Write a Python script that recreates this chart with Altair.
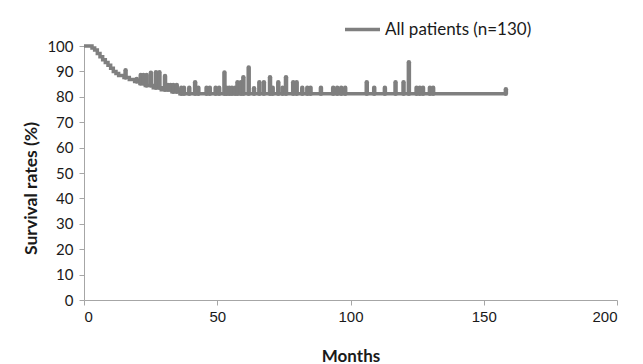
import altair as alt
import pandas as pd
import numpy as np

# Kaplan-Meier step curve (months, survival %)
km_months = [0, 3, 4, 5, 6, 7, 8, 9, 10, 11, 12, 13, 15, 17, 19, 21, 23, 26, 29, 33, 36, 158.3]
km_surv = [100, 99.2, 98.4, 97.0, 95.8, 94.6, 93.5, 92.4, 91.2, 90.0, 89.2, 88.4, 87.6,
           86.8, 86.0, 85.2, 84.4, 83.6, 82.8, 82.0, 81.2, 81.2]

# Censoring marks (month, top of the spike in %)
cens_months = [15.6, 19.8, 21.3, 22.3, 23.5, 25.1, 27.0, 28.3, 30.4, 31.5, 32.5, 33.5, 34.8,
               36.5, 37.5, 39.5, 41.7, 42.9, 46.0, 47.2, 49.4, 50.7, 52.7, 53.5, 54.5, 55.5,
               56.7, 57.6, 58.9, 59.8, 61.8, 63.8, 65.8, 67.5, 69.8, 70.8, 72.9, 74.5, 75.8,
               78.5, 79.8, 81.9, 83.8, 85.0, 88.9, 93.5, 95.0, 96.5, 98.0, 106.1, 108.9,
               112.9, 116.9, 119.9, 121.9, 124.8, 126.0, 127.2, 129.8, 131.0, 158.3]
cens_top = [90.5, 87.0, 88.6, 88.6, 88.6, 89.5, 89.7, 89.7, 88.2, 84.6, 84.6, 84.6, 84.6,
            83.6, 83.6, 83.6, 85.7, 83.6, 83.6, 83.6, 83.6, 83.6, 89.6, 83.6, 83.6, 83.6,
            83.6, 85.7, 85.7, 87.7, 91.5, 83.4, 85.7, 85.7, 87.7, 83.6, 85.7, 83.6, 87.7,
            85.7, 85.7, 83.6, 83.6, 83.6, 83.6, 83.6, 83.6, 83.6, 83.6, 85.7, 83.6,
            83.6, 85.7, 85.7, 93.6, 83.6, 83.6, 83.6, 83.6, 83.6, 83.0]

x_ticks = [0, 50, 100, 150, 200]
y_ticks = [0, 10, 20, 30, 40, 50, 60, 70, 80, 90, 100]
series_label = "All patients (n=130)"
gray = "#7f7f7f"

km = pd.DataFrame({"month": km_months, "surv": km_surv, "group": series_label})
idx = np.searchsorted(np.array(km_months), np.array(cens_months), side="right") - 1
cens = pd.DataFrame({"month": cens_months,
                     "base": [km_surv[i] for i in idx],
                     "top": cens_top})

xscale = alt.Scale(domain=[0, 200], nice=False)
yscale = alt.Scale(domain=[0, 100], nice=False)

xaxis = alt.Axis(values=x_ticks, title="Months", labelFont="Liberation Sans",
                 labelFontSize=15, labelPadding=4, labelOverlap=False, titleFont="Lato",
                 titleFontSize=17, titleFontWeight="bold", titlePadding=24, grid=False)
yaxis = alt.Axis(values=y_ticks, title="Survival rates (%)", labelFont="Lato",
                 labelFontSize=15, labelPadding=6, labelOverlap=False, titleFont="Lato",
                 titleFontSize=17.5, titleFontWeight="bold", titleX=-44, titleY=142,
                 grid=False)

line = alt.Chart(km).mark_line(interpolate="step-after", strokeWidth=3.5).encode(
    x=alt.X("month:Q", scale=xscale, axis=xaxis),
    y=alt.Y("surv:Q", scale=yscale, axis=yaxis),
    color=alt.Color("group:N", scale=alt.Scale(range=[gray]),
                    legend=alt.Legend(title=None, orient="none", legendX=259, legendY=-36,
                                      symbolType="stroke", symbolSize=1225,
                                      symbolStrokeWidth=3.5, labelFont="Lato",
                                      labelFontSize=17, labelOffset=3, labelColor="#1a1a1a",
                                      padding=0)),
)

spikes = alt.Chart(cens).mark_rule(strokeWidth=4.5, strokeCap="round", color=gray).encode(
    x=alt.X("month:Q", scale=xscale, axis=xaxis),
    y=alt.Y("base:Q", scale=yscale, axis=yaxis),
    y2="top:Q",
)

chart = alt.layer(line, spikes).properties(
    width=533, height=254,
    autosize=alt.AutoSizeParams(type="none"),
    padding={"left": 76, "top": 38, "right": 10, "bottom": 64},
).configure_view(stroke=None).configure_axis(
    domainColor="#a6a6a6", tickColor="#a6a6a6", tickSize=5, labelColor="#1a1a1a",
    titleColor="#1a1a1a", domainWidth=1, tickWidth=1,
)

chart.save("out.html", embed_options={"renderer": "svg", "actions": False})
